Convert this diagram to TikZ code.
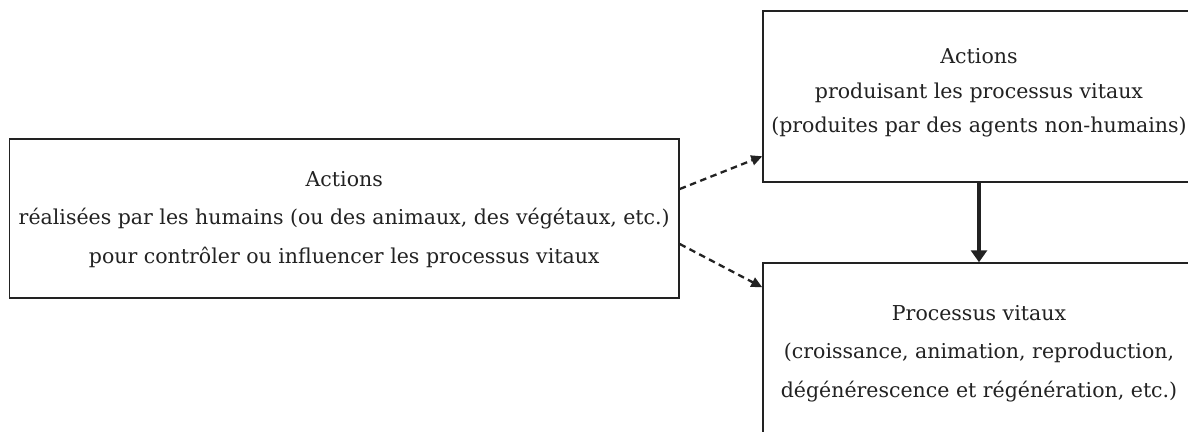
\documentclass[tikz,border=0pt]{standalone}
\usepackage{fontspec}
\setmainfont{DejaVu Serif}
\usetikzlibrary{arrows.meta}
\definecolor{ink}{HTML}{222222}
\begin{document}
\begin{tikzpicture}[x=1pt,y=-1pt,
  box/.style={draw=ink, line width=1.5pt, rectangle, inner sep=0pt},
  txt/.style={inner sep=0pt, align=center, text=ink},
  dasharrow/.style={draw=ink, line width=2.3pt, dash pattern=on 6.5pt off 4.5pt,
    -{Triangle[length=11pt,width=10pt]}},
  thickarrow/.style={draw=ink, line width=3.8pt, -{Triangle[length=12pt,width=16pt]}}]
\useasboundingbox (0,0) rectangle (1188,431);
\fill[white] (0,0) rectangle (1188,431);
\node[box, minimum width=669.5pt, minimum height=159pt] (L) at (344.25,218.5) {};
\node[box, minimum width=432pt, minimum height=171pt] (T) at (979,96.5) {};
\node[box, minimum width=432pt, minimum height=180pt] (B) at (979,353) {};
\node[txt, font=\fontsize{20.5}{38.5}\selectfont] (Lt) at (344.25,219.5)
  {Actions\\réalisées par les humains (ou des animaux, des végétaux, etc.)\\pour contrôler ou influencer les processus vitaux};
\node[txt, font=\fontsize{20.5}{34.5}\selectfont] (Tt) at (979,93)
  {Actions\\produisant les processus vitaux\\(produites par des agents non-humains)};
\node[txt, font=\fontsize{20.5}{38.5}\selectfont] (Bt) at (979,353.5)
  {Processus vitaux\\(croissance, animation, reproduction,\\dégénérescence et régénération, etc.)};
\draw[dasharrow] ([yshift=29.5pt]L.east) -- ([yshift=26.5pt]T.south west);
\draw[dasharrow] ([yshift=-25.5pt]L.east) -- ([yshift=-25pt]B.north west);
\draw[thickarrow] (T.south) -- (B.north);
\end{tikzpicture}
\end{document}
